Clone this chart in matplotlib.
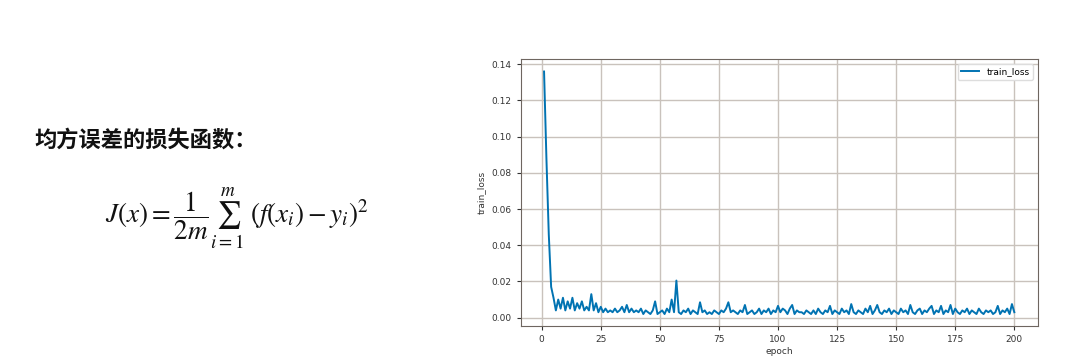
import numpy as np
import matplotlib
matplotlib.use("Agg")
import matplotlib.pyplot as plt

# training loss per epoch
epochs = np.arange(1, 201)
train_loss = [
    0.136, 0.088, 0.046, 0.017, 0.011, 0.004, 0.010, 0.005, 0.011, 0.004,
    0.009, 0.005, 0.011, 0.004, 0.008, 0.005, 0.009, 0.004, 0.006, 0.004,
    0.013, 0.004, 0.008, 0.003, 0.006, 0.003, 0.005, 0.003, 0.004, 0.003,
    0.005, 0.003, 0.004, 0.006, 0.003, 0.007, 0.003, 0.005, 0.003, 0.004,
    0.003, 0.005, 0.002, 0.004, 0.003, 0.002, 0.004, 0.009, 0.002, 0.003,
    0.004, 0.002, 0.005, 0.003, 0.010, 0.003, 0.0205, 0.003, 0.002, 0.004,
    0.003, 0.005, 0.002, 0.004, 0.003, 0.002, 0.0085, 0.003, 0.004, 0.002,
    0.003, 0.002, 0.004, 0.003, 0.002, 0.004, 0.003, 0.005, 0.0085, 0.003,
    0.004, 0.003, 0.002, 0.004, 0.003, 0.007, 0.002, 0.003, 0.004, 0.002,
    0.003, 0.005, 0.002, 0.004, 0.003, 0.005, 0.002, 0.004, 0.003, 0.0065,
    0.003, 0.005, 0.004, 0.002, 0.005, 0.007, 0.002, 0.004, 0.003, 0.003,
    0.002, 0.004, 0.003, 0.002, 0.004, 0.002, 0.005, 0.003, 0.002, 0.004,
    0.003, 0.0065, 0.002, 0.004, 0.003, 0.002, 0.005, 0.003, 0.004, 0.002,
    0.0075, 0.003, 0.002, 0.004, 0.003, 0.002, 0.005, 0.003, 0.0065, 0.002,
    0.004, 0.007, 0.003, 0.002, 0.004, 0.003, 0.005, 0.002, 0.004, 0.003,
    0.002, 0.005, 0.003, 0.004, 0.002, 0.007, 0.003, 0.002, 0.004, 0.005,
    0.002, 0.004, 0.003, 0.005, 0.0065, 0.002, 0.004, 0.003, 0.0065, 0.002,
    0.004, 0.003, 0.007, 0.002, 0.005, 0.003, 0.002, 0.004, 0.003, 0.005,
    0.002, 0.004, 0.003, 0.002, 0.005, 0.003, 0.002, 0.004, 0.003, 0.004,
    0.002, 0.003, 0.0065, 0.002, 0.004, 0.003, 0.005, 0.002, 0.0075, 0.003,
]

plt.rcParams['font.family'] = ['DejaVu Sans']
plt.rcParams['mathtext.fontset'] = 'stix'

fig = plt.figure(figsize=(10.89, 3.6), dpi=100)

# slide text on the left
fig.text(0.032, 0.61, "均方误差的损失函数：", fontsize=16, fontweight='bold',
         family=['Noto Sans CJK SC', 'DejaVu Sans'],
         va='center', ha='left', color='#111111')
fig.text(0.096, 0.395, r'$J(x)=\dfrac{1}{2m}\sum_{i=1}^{m}\ (f(x_i)-y_i)^2$',
         fontsize=19.5, va='center', ha='left', color='#111111')

# loss chart on the right
ax = fig.add_axes([0.478, 0.094, 0.475, 0.741])
ax.plot(epochs, train_loss, color='#0173b2', lw=1.4, label='train_loss')
ax.grid(True, color='#c9c2bc', lw=1.0)
ax.set_xticks([0, 25, 50, 75, 100, 125, 150, 175, 200])
ax.set_yticks([0.00, 0.02, 0.04, 0.06, 0.08, 0.10, 0.12, 0.14])
ax.tick_params(labelsize=6.5, colors='#333333', length=3)
ax.set_xlabel('epoch', fontsize=6.5, color='#333333', labelpad=2)
ax.set_ylabel('train_loss', fontsize=6.5, color='#333333', labelpad=4)
for s in ax.spines.values():
    s.set_color('#6e6660')
ax.legend(loc='upper right', fontsize=6.5, framealpha=1, edgecolor='#dddddd')

fig.savefig('out.png', dpi=100)
